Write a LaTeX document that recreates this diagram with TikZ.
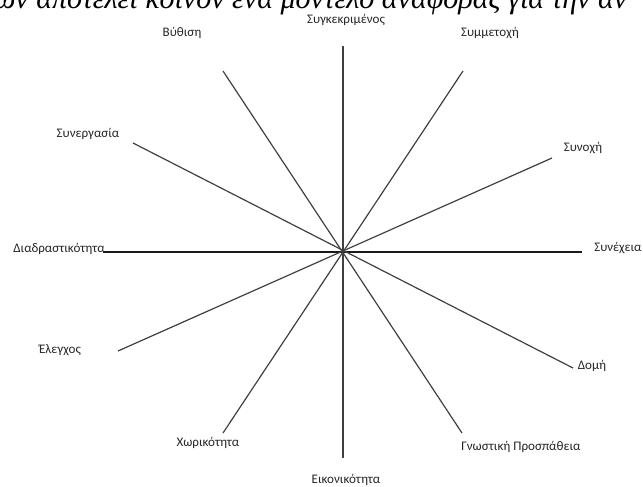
\documentclass[tikz,border=0pt]{standalone}
\usepackage{fontspec}
\setmainfont{Carlito}
\newfontfamily\topfont{Liberation Serif}
\begin{document}
\begin{tikzpicture}[x=0.75pt,y=-0.75pt,
  spoke/.style={draw=black!75, line width=0.9pt},
  lbl/.style={font=\fontsize{9.8}{11}\selectfont, text=black!85, inner sep=0pt}]
\useasboundingbox (0,0) rectangle (643,486);
\clip (0,0) rectangle (643,486);
\node[anchor=base west, font=\topfont\itshape\fontsize{22.5}{26}\selectfont, inner sep=0pt] (toptext) at (-6,8) {ων αποτελεί κοινόν ένα μοντέλο αναφοράς για την αν};
% spoke ends
\coordinate (c) at (343,252);
\coordinate (n) at (343,46);
\coordinate (s) at (343,458);
\coordinate (w) at (103,252);
\coordinate (e) at (582,252);
\coordinate (nwa) at (223,71);
\coordinate (sea) at (462,433);
\coordinate (nea) at (463,71);
\coordinate (swa) at (223,433);
\coordinate (nwb) at (133,143);
\coordinate (seb) at (573,368);
\coordinate (neb) at (552,158);
\coordinate (swb) at (118,351);
\draw[spoke, line width=1.2pt] (n) -- (s);
\draw[spoke, draw=black!90] (w) -- (e);
\draw[spoke] (nwa) -- (sea);
\draw[spoke] (nea) -- (swa);
\draw[spoke] (nwb) -- (seb);
\draw[spoke] (neb) -- (swb);
% labels
\node[lbl] (l1) at (346,20) {Συγκεκριμένος};
\node[lbl] (l2) at (182,33) {Βύθιση};
\node[lbl] (l3) at (490,33) {Συμμετοχή};
\node[lbl] (l4) at (88,134) {Συνεργασία};
\node[lbl] (l5) at (583,148) {Συνοχή};
\node[lbl, anchor=base east] (l6) at (105,252) {Διαδραστικότητα};
\node[lbl, anchor=base west] (l7) at (594,251) {Συνέχεια};
\node[lbl] (l8) at (60,350) {Έλεγχος};
\node[lbl] (l9) at (592,366) {Δομή};
\node[lbl] (l10) at (208,443) {Χωρικότητα};
\node[lbl] (l11) at (346,480) {Εικονικότητα};
\node[lbl] (l12) at (521,447) {Γνωστική Προσπάθεια};
\end{tikzpicture}
\end{document}
